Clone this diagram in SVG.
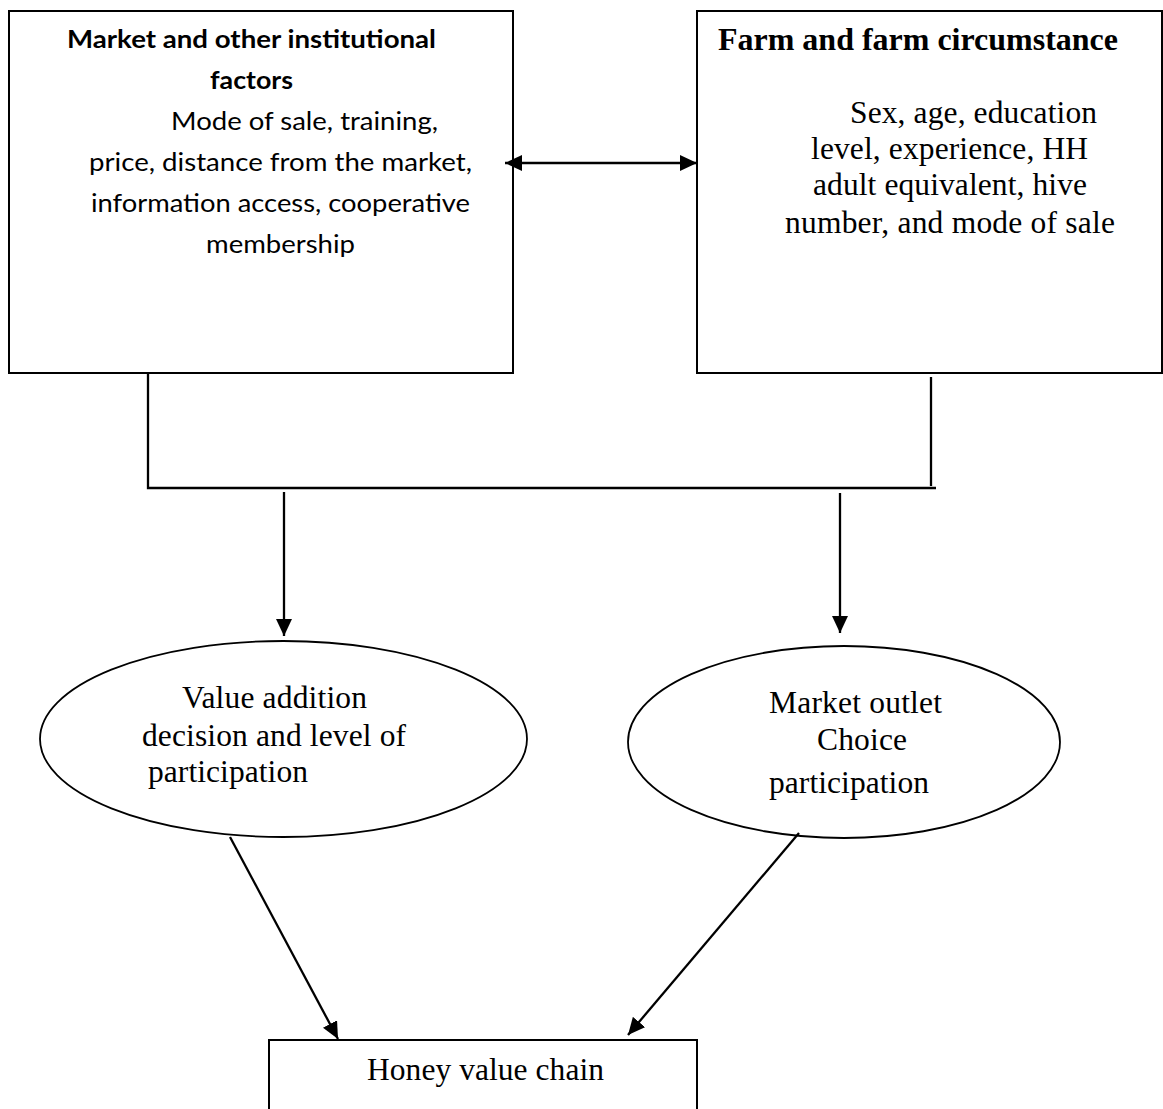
<svg xmlns="http://www.w3.org/2000/svg" width="1163" height="1109" viewBox="0 0 1163 1109">
<style>
.box{fill:#fff;stroke:#000;stroke-width:2}
.ell{fill:#fff;stroke:#000;stroke-width:1.8}
.ln{fill:none;stroke:#000;stroke-width:2.3}
.cal{font-family:Lato,"Liberation Sans",sans-serif;font-size:25px;fill:#000}
.calb{font-family:Lato,"Liberation Sans",sans-serif;font-size:25px;font-weight:bold;fill:#000}
.tnr{font-family:"Liberation Serif","Times New Roman",serif;font-size:31.5px;fill:#000}
.tnrb{font-family:"Liberation Serif","Times New Roman",serif;font-size:32px;font-weight:bold;fill:#000}
</style>
<defs>
<marker id="ah" markerUnits="userSpaceOnUse" markerWidth="17" markerHeight="16" refX="17" refY="8" orient="auto-start-reverse" viewBox="0 0 17 16">
<path d="M0,0 L17,8 L0,16 z" fill="#000"/>
</marker>
</defs>
<rect width="1163" height="1109" fill="#fff"/>
<g id="market-factors">
<rect class="box" x="9" y="11" width="504" height="362"/>
<text class="calb" x="67" y="48" textLength="369" lengthAdjust="spacingAndGlyphs">Market and other institutional</text>
<text class="calb" x="210" y="89" textLength="83" lengthAdjust="spacingAndGlyphs">factors</text>
<text class="cal" x="171" y="130" textLength="267" lengthAdjust="spacingAndGlyphs">Mode of sale, training,</text>
<text class="cal" x="89" y="171" textLength="383" lengthAdjust="spacingAndGlyphs">price, distance from the market,</text>
<text class="cal" x="91" y="212" textLength="379" lengthAdjust="spacingAndGlyphs">information access, cooperative</text>
<text class="cal" x="206" y="253" textLength="149" lengthAdjust="spacingAndGlyphs">membership</text>
</g>
<g id="farm-circumstance">
<rect class="box" x="697" y="11" width="465" height="362"/>
<text class="tnrb" x="718" y="50" textLength="400">Farm and farm circumstance</text>
<text class="tnr" x="850" y="123" textLength="247">Sex, age, education</text>
<text class="tnr" x="811" y="159" textLength="277">level, experience, HH</text>
<text class="tnr" x="813" y="195" textLength="274">adult equivalent, hive</text>
<text class="tnr" x="785" y="233" textLength="330">number, and mode of sale</text>
</g>
<g id="value-addition">
<ellipse class="ell" cx="283.5" cy="739" rx="243.5" ry="98"/>
<text class="tnr" x="182" y="708" textLength="185">Value addition</text>
<text class="tnr" x="142" y="746" textLength="264">decision and level of</text>
<text class="tnr" x="148" y="782" textLength="160">participation</text>
</g>
<g id="market-outlet">
<ellipse class="ell" cx="844" cy="742" rx="216" ry="96"/>
<text class="tnr" x="769" y="713" textLength="173">Market outlet</text>
<text class="tnr" x="817" y="750" textLength="90">Choice</text>
<text class="tnr" x="769" y="793" textLength="160">participation</text>
</g>
<g id="honey-value-chain">
<rect class="box" x="269" y="1040" width="428" height="80"/>
<text class="tnr" x="367" y="1080" textLength="237">Honey value chain</text>
</g>
<g id="connectors">
<line class="ln" x1="505" y1="163" x2="697" y2="163" marker-start="url(#ah)" marker-end="url(#ah)"/>
<polyline class="ln" points="148,374 148,488 936,488"/>
<line class="ln" x1="931" y1="377" x2="931" y2="486"/>
<line class="ln" x1="284" y1="492" x2="284" y2="636" marker-end="url(#ah)"/>
<line class="ln" x1="840" y1="493" x2="840" y2="633" marker-end="url(#ah)"/>
<line class="ln" x1="230" y1="837" x2="338" y2="1039" marker-end="url(#ah)"/>
<line class="ln" x1="799" y1="833" x2="628" y2="1035" marker-end="url(#ah)"/>
</g>
</svg>
